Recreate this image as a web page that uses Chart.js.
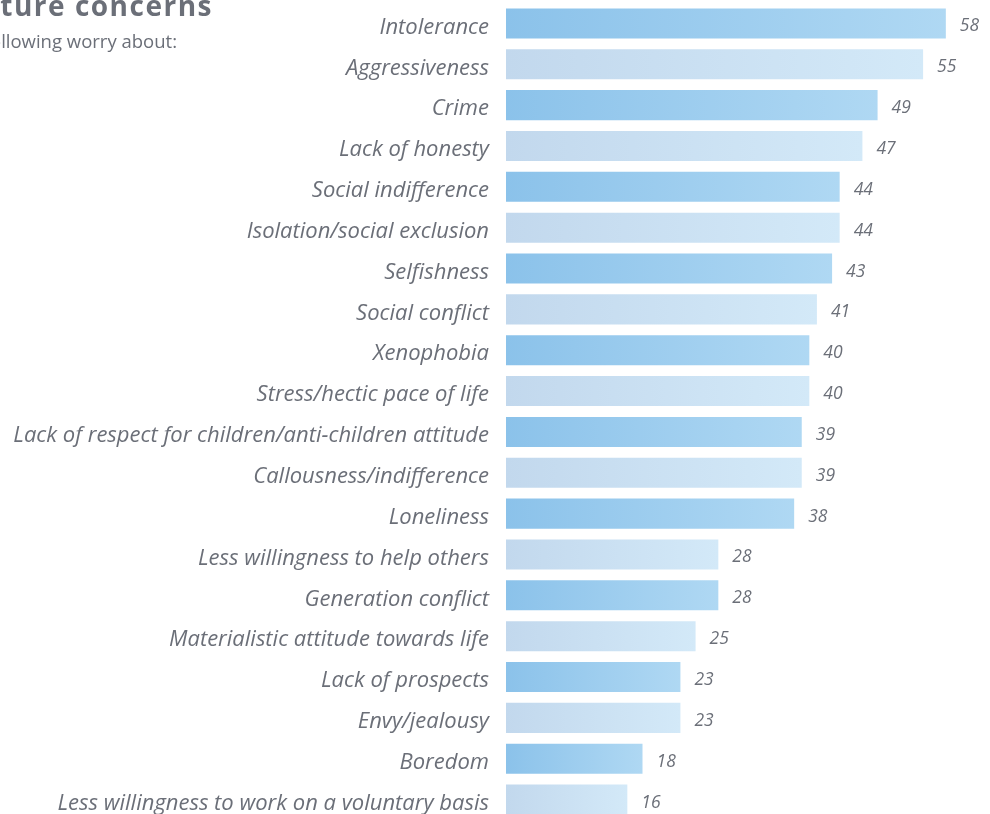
<!DOCTYPE html>
<html>
<head>
<meta charset="utf-8">
<script src="https://cdn.jsdelivr.net/npm/chart.js@4"></script>
<style>
    html, body { margin: 0; padding: 0; background: #fff; overflow: hidden; }
    #wrap { position: relative; width: 990px; height: 820px; }
    .head { position: absolute; white-space: nowrap; color: #6b6f78; font-family: "Open Sans", sans-serif; line-height: 1; }
    #title { top: -9px; right: 777px; font-size: 28px; font-weight: bold; letter-spacing: 1.5px; }
    #subtitle { top: 32px; right: 813px; font-size: 18.5px; }
</style>
</head>
<body>
<div id="wrap">
    <div class="head" id="title">Future concerns</div>
    <div class="head" id="subtitle">Respondents who name the following worry about:</div>
    <canvas id="concernsChart" width="990" height="820"></canvas>
</div>
<script>
// Concerns and the share (%) naming each one
const concerns = [
    'Intolerance', 'Aggressiveness', 'Crime', 'Lack of honesty',
    'Social indifference', 'Isolation/social exclusion', 'Selfishness',
    'Social conflict', 'Xenophobia', 'Stress/hectic pace of life',
    'Lack of respect for children/anti-children attitude',
    'Callousness/indifference', 'Loneliness', 'Less willingness to help others',
    'Generation conflict', 'Materialistic attitude towards life',
    'Lack of prospects', 'Envy/jealousy', 'Boredom',
    'Less willingness to work on a voluntary basis'
];
const shares = [58, 55, 49, 47, 44, 44, 43, 41, 40, 40, 39, 39, 38, 28, 28, 25, 23, 23, 18, 16];

const textGrey = '#6b6f78';

// Alternating rows: stronger blue and pale blue, each fading to the right
function barFill(context) {
    const chart = context.chart;
    const x = chart.scales.x;
    const even = context.dataIndex % 2 === 0;
    if (!x || !chart.chartArea) return even ? '#9ccbee' : '#cbe2f4';
    const x0 = x.getPixelForValue(0);
    const x1 = x.getPixelForValue(shares[context.dataIndex]);
    const g = chart.ctx.createLinearGradient(x0, 0, Math.max(x1, x0 + 1), 0);
    if (even) {
        g.addColorStop(0, '#8bc2ea');
        g.addColorStop(1, '#afd8f3');
    } else {
        g.addColorStop(0, '#c2d8ed');
        g.addColorStop(1, '#d3e9f8');
    }
    return g;
}

// Value printed just past the end of each bar
const valueLabels = {
    id: 'valueLabels',
    afterDatasetsDraw(chart) {
        const ctx = chart.ctx;
        const meta = chart.getDatasetMeta(0);
        ctx.save();
        ctx.font = 'italic 17.5px "Open Sans", sans-serif';
        ctx.fillStyle = textGrey;
        ctx.textAlign = 'left';
        ctx.textBaseline = 'middle';
        meta.data.forEach(function(bar, i) {
            ctx.fillText(String(shares[i]), bar.x + 14, bar.y + 3);
        });
        ctx.restore();
    }
};

new Chart(document.getElementById('concernsChart'), {
    type: 'bar',
    data: {
        labels: concerns,
        datasets: [{
            data: shares,
            backgroundColor: barFill,
            borderWidth: 0,
            barPercentage: 0.735,
            categoryPercentage: 1
        }]
    },
    options: {
        indexAxis: 'y',
        responsive: false,
        animation: false,
        events: [],
        layout: { padding: { top: 3, right: 29, bottom: 0, left: 0 } },
        plugins: {
            legend: { display: false },
            title: { display: false },
            tooltip: { enabled: false }
        },
        scales: {
            x: {
                display: false,
                min: 0,
                max: 60
            },
            y: {
                // fixed gutter for the labels, no extra padding above/below the rows
                afterFit: function(scale) {
                    scale.width = 506;
                    scale.paddingTop = 0;
                    scale.paddingBottom = 0;
                },
                grid: { display: false, drawTicks: false },
                border: { display: false },
                ticks: {
                    padding: 17,
                    labelOffset: 4,
                    color: textGrey,
                    font: { family: '"Open Sans", sans-serif', size: 22, style: 'italic' }
                }
            }
        }
    },
    plugins: [valueLabels]
});
</script>
</body>
</html>
